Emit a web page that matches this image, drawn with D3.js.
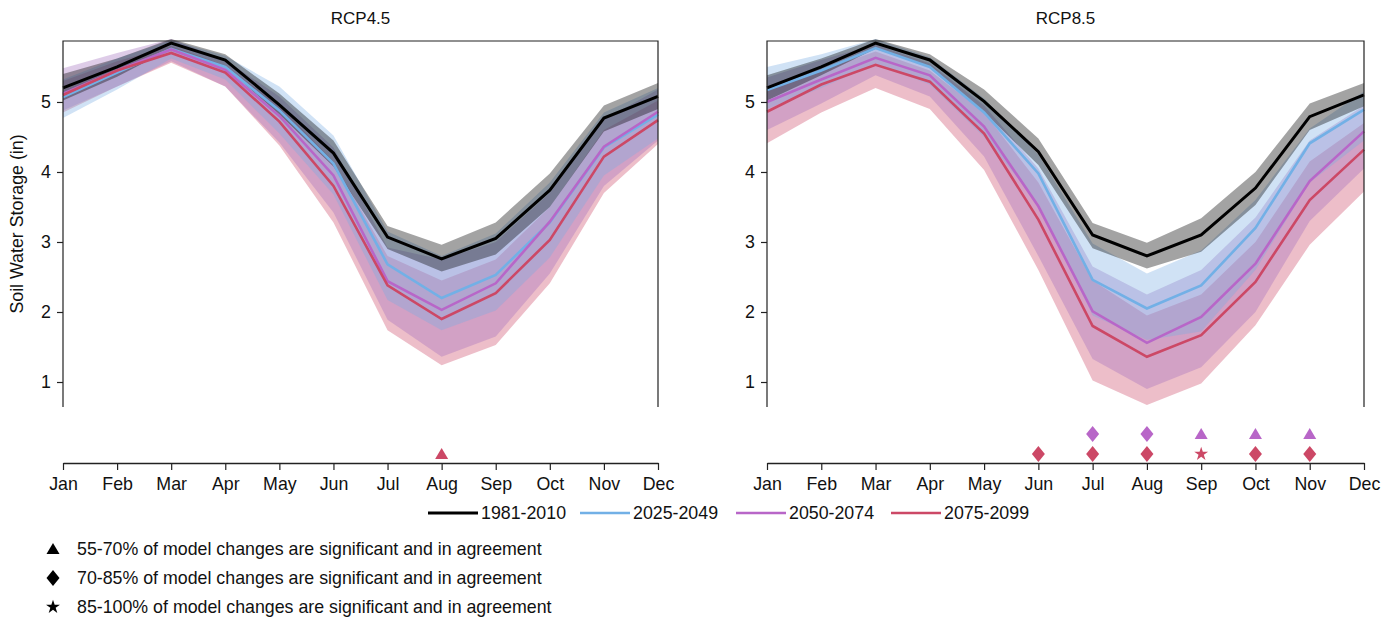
<!DOCTYPE html>
<html>
<head>
<meta charset="utf-8">
<script src="https://cdn.jsdelivr.net/npm/d3@7"></script>
<style>
  body { margin: 0; background: #fff; }
  svg text { font-family: "Liberation Sans", Arial, Helvetica, sans-serif; fill: #111; }
</style>
</head>
<body>
<div id="chart"></div>
<script>
// Monate und Zeitraeume
var months = ["Jan","Feb","Mar","Apr","May","Jun","Jul","Aug","Sep","Oct","Nov","Dec"];
var periods = ["1981-2010","2025-2049","2050-2074","2075-2099"];
var yTicks = [1, 2, 3, 4, 5];

// RCP4.5 - Mittelwert, obere und untere Grenze je Zeitraum
var rcp45_base = [5.20, 5.50, 5.84, 5.60, 4.96, 4.27, 3.07, 2.76, 3.05, 3.74, 4.77, 5.08];
var rcp45_base_hi = [5.40, 5.62, 5.90, 5.68, 5.12, 4.45, 3.23, 2.96, 3.28, 3.98, 4.95, 5.27];
var rcp45_base_lo = [5.02, 5.36, 5.76, 5.50, 4.82, 4.08, 2.90, 2.58, 2.82, 3.50, 4.58, 4.90];
var rcp45_p1 = [5.07, 5.42, 5.76, 5.50, 4.88, 4.12, 2.68, 2.20, 2.53, 3.28, 4.35, 4.82];
var rcp45_p1_hi = [5.32, 5.62, 5.88, 5.66, 5.22, 4.52, 3.15, 2.80, 3.12, 3.85, 4.85, 5.20];
var rcp45_p1_lo = [4.77, 5.18, 5.62, 5.32, 4.55, 3.68, 2.17, 1.74, 2.02, 2.78, 3.95, 4.48];
var rcp45_p2 = [5.12, 5.45, 5.75, 5.46, 4.80, 3.95, 2.44, 2.03, 2.41, 3.29, 4.36, 4.86];
var rcp45_p2_hi = [5.48, 5.70, 5.90, 5.60, 5.08, 4.35, 2.92, 2.75, 3.00, 3.70, 4.75, 5.18];
var rcp45_p2_lo = [4.88, 5.22, 5.58, 5.22, 4.42, 3.42, 1.89, 1.36, 1.65, 2.55, 3.80, 4.45];
var rcp45_p3 = [5.10, 5.45, 5.70, 5.42, 4.72, 3.80, 2.38, 1.90, 2.27, 3.03, 4.22, 4.74];
var rcp45_p3_hi = [5.30, 5.58, 5.80, 5.52, 4.95, 4.15, 2.80, 2.45, 2.75, 3.50, 4.60, 5.02];
var rcp45_p3_lo = [4.85, 5.22, 5.56, 5.22, 4.38, 3.28, 1.74, 1.24, 1.53, 2.41, 3.70, 4.40];

// RCP8.5
var rcp85_base = [5.20, 5.50, 5.84, 5.60, 5.01, 4.29, 3.10, 2.80, 3.10, 3.77, 4.79, 5.10];
var rcp85_base_hi = [5.38, 5.62, 5.90, 5.68, 5.18, 4.48, 3.27, 2.99, 3.34, 4.00, 4.98, 5.27];
var rcp85_base_lo = [5.02, 5.38, 5.76, 5.50, 4.85, 4.10, 2.91, 2.62, 2.86, 3.53, 4.60, 4.94];
var rcp85_p1 = [5.17, 5.45, 5.77, 5.50, 4.85, 3.98, 2.46, 2.05, 2.38, 3.20, 4.41, 4.89];
var rcp85_p1_hi = [5.50, 5.68, 5.90, 5.64, 5.05, 4.25, 2.98, 2.55, 2.88, 3.60, 4.62, 5.15];
var rcp85_p1_lo = [4.90, 5.20, 5.55, 5.25, 4.50, 3.55, 1.95, 1.60, 1.72, 2.60, 3.85, 4.45];
var rcp85_p2 = [5.00, 5.32, 5.63, 5.38, 4.65, 3.51, 2.01, 1.56, 1.93, 2.69, 3.87, 4.58];
var rcp85_p2_hi = [5.35, 5.60, 5.82, 5.55, 4.95, 4.05, 2.65, 2.25, 2.60, 3.35, 4.45, 4.95];
var rcp85_p2_lo = [4.60, 4.98, 5.38, 5.08, 4.22, 2.80, 1.33, 0.90, 1.21, 2.00, 3.30, 4.05];
var rcp85_p3 = [4.86, 5.25, 5.53, 5.29, 4.55, 3.32, 1.80, 1.36, 1.67, 2.43, 3.60, 4.32];
var rcp85_p3_hi = [5.20, 5.45, 5.72, 5.45, 4.85, 3.85, 2.45, 1.95, 2.25, 3.00, 4.15, 4.70];
var rcp85_p3_lo = [4.41, 4.85, 5.20, 4.90, 4.03, 2.60, 1.02, 0.67, 0.98, 1.81, 2.96, 3.72];

// Signifikanz-Marker (Monat, Zeitraum, Stufe)
var rcp45_sig = [["Aug", "2075-2099", "55-70"]];
var rcp85_sig = [
  ["Jun", "2075-2099", "70-85"], ["Jul", "2075-2099", "70-85"], ["Aug", "2075-2099", "70-85"],
  ["Sep", "2075-2099", "85-100"], ["Oct", "2075-2099", "70-85"], ["Nov", "2075-2099", "70-85"],
  ["Jul", "2050-2074", "70-85"], ["Aug", "2050-2074", "70-85"], ["Sep", "2050-2074", "55-70"],
  ["Oct", "2050-2074", "55-70"], ["Nov", "2050-2074", "55-70"]
];
var sigLevels = ["55-70", "70-85", "85-100"];

// Farben
var lineColor = { "1981-2010": "#000000", "2025-2049": "#72b0e6", "2050-2074": "#b866c8", "2075-2099": "#cc4866" };
var bandColor = { "1981-2010": "rgba(0,0,0,0.36)", "2025-2049": "rgba(120,172,226,0.35)", "2050-2074": "rgba(160,110,190,0.35)", "2075-2099": "rgba(204,69,101,0.35)" };
var markRow = { "2025-2049": 2, "2050-2074": 1, "2075-2099": 0 };

var width = 1397, height = 619;
var fs = 17.8;
var svg = d3.select("#chart").append("svg").attr("width", width).attr("height", height);

var plotTop = 41, plotBottom = 407, axisY = 463;
var y = d3.scaleLinear().domain([0.643, 5.871]).range([plotBottom, plotTop]);

function series(mean, hi, lo){ return { mean: mean, hi: hi, lo: lo }; }

var panels = [
  { title: "RCP4.5", x0: 63, x1: 658, sig: rcp45_sig,
    data: [series(rcp45_base, rcp45_base_hi, rcp45_base_lo), series(rcp45_p1, rcp45_p1_hi, rcp45_p1_lo),
           series(rcp45_p2, rcp45_p2_hi, rcp45_p2_lo), series(rcp45_p3, rcp45_p3_hi, rcp45_p3_lo)] },
  { title: "RCP8.5", x0: 767, x1: 1364, sig: rcp85_sig,
    data: [series(rcp85_base, rcp85_base_hi, rcp85_base_lo), series(rcp85_p1, rcp85_p1_hi, rcp85_p1_lo),
           series(rcp85_p2, rcp85_p2_hi, rcp85_p2_lo), series(rcp85_p3, rcp85_p3_hi, rcp85_p3_lo)] }
];

// Symbole
function markerPath(level){
  if (level == "55-70") return "M0,-6L6.5,5L-6.5,5Z";
  if (level == "70-85") return "M0,-8L6.5,0L0,8L-6.5,0Z";
  return d3.symbol().type(d3.symbolStar).size(60)();
}

panels.forEach(function(p){
  var x = d3.scalePoint().domain(months).range([p.x0, p.x1]);
  var g = svg.append("g");

  // Baender (spaetester Zeitraum zuerst, Referenz oben)
  var area = d3.area()
    .x(function(d, i){ return x(months[i]) })
    .y0(function(d){ return y(d[0]) })
    .y1(function(d){ return y(d[1]) });
  [3, 2, 1, 0].forEach(function(k){
    var s = p.data[k];
    var pts = s.lo.map(function(v, i){ return [v, s.hi[i]] });
    g.append("path").attr("d", area(pts)).attr("fill", bandColor[periods[k]]);
  });

  // Linien
  var line = d3.line().x(function(d, i){ return x(months[i]) }).y(function(d){ return y(d) });
  [1, 2, 3, 0].forEach(function(k){
    g.append("path").attr("d", line(p.data[k].mean))
      .attr("fill", "none")
      .attr("stroke", lineColor[periods[k]])
      .attr("stroke-width", k == 0 ? 3 : 2.6)
      .attr("stroke-linejoin", "miter");
  });

  // Rahmen (links, oben, rechts)
  g.append("path")
    .attr("d", "M" + p.x0 + "," + plotBottom + "V" + plotTop + "H" + p.x1 + "V" + plotBottom)
    .attr("fill", "none").attr("stroke", "#222").attr("stroke-width", 1.2);

  // y-Achse
  var yAxis = g.append("g").attr("transform", "translate(" + p.x0 + ",0)")
    .call(d3.axisLeft(y).tickValues(yTicks).tickSize(6).tickPadding(6).tickFormat(d3.format("d")));
  yAxis.select(".domain").remove();
  yAxis.selectAll("line").attr("stroke", "#222").attr("stroke-width", 1.2);
  yAxis.selectAll("text").attr("font-size", fs).style("font-family", "Liberation Sans, Arial, sans-serif").attr("fill", "#111");

  // Monats-Achse
  var xAxis = g.append("g").attr("transform", "translate(0," + axisY + ")")
    .call(d3.axisBottom(x).tickSize(7).tickPadding(7).tickSizeOuter(0));
  xAxis.select(".domain").attr("stroke", "#222").attr("stroke-width", 1.5);
  xAxis.selectAll("line").attr("stroke", "#222").attr("stroke-width", 1.2);
  xAxis.selectAll("text").attr("font-size", fs).style("font-family", "Liberation Sans, Arial, sans-serif").attr("fill", "#111");

  // Titel
  g.append("text").attr("x", (p.x0 + p.x1) / 2).attr("y", 24)
    .attr("text-anchor", "middle").attr("font-size", 17).text(p.title);

  // Marker
  g.selectAll(".sig").data(p.sig).enter().append("path")
    .attr("d", function(d){ return markerPath(d[2]) })
    .attr("transform", function(d){ return "translate(" + x(d[0]) + "," + (454 - 20 * markRow[d[1]]) + ")" })
    .attr("fill", function(d){ return lineColor[d[1]] });
});

// y-Achsenbeschriftung
svg.append("text").attr("transform", "translate(23," + ((plotTop + plotBottom) / 2) + ") rotate(-90)")
  .attr("text-anchor", "middle").attr("font-size", fs).text("Soil Water Storage (in)");

// Legende Zeitraeume
var legX = [428, 580, 736, 891];
var leg = svg.selectAll(".leg").data(periods).enter().append("g")
  .attr("transform", function(d, i){ return "translate(" + legX[i] + ",513)" });
leg.append("line").attr("x1", 0).attr("x2", 50).attr("y1", 0).attr("y2", 0)
  .attr("stroke", function(d){ return lineColor[d] }).attr("stroke-width", function(d, i){ return i == 0 ? 3 : 2.6 });
leg.append("text").attr("x", 53).attr("y", 6).attr("font-size", fs).text(function(d){ return d });

// Legende Signifikanz
var sigText = ["55-70% of model changes are significant and in agreement",
               "70-85% of model changes are significant and in agreement",
               "85-100% of model changes are significant and in agreement"];
var sl = svg.selectAll(".sl").data(sigLevels).enter().append("g")
  .attr("transform", function(d, i){ return "translate(53," + (549 + 29 * i) + ")" });
sl.append("path").attr("d", function(d){ return markerPath(d) }).attr("fill", "#000");
sl.append("text").attr("x", 24).attr("y", 6).attr("font-size", fs).text(function(d, i){ return sigText[i] });
</script>
</body>
</html>
